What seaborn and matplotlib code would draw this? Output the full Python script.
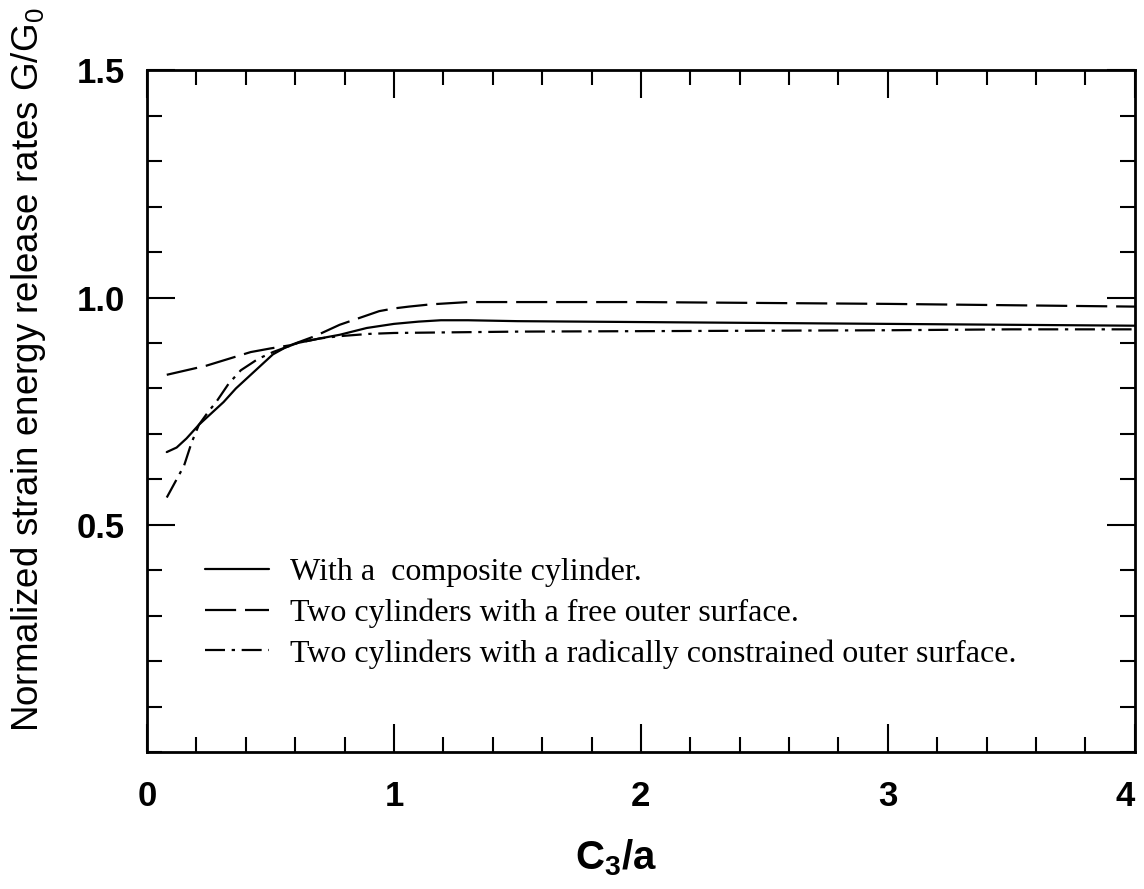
import numpy as np
import pandas as pd
import matplotlib
matplotlib.use("Agg")
import matplotlib.pyplot as plt
import seaborn as sns
from matplotlib.lines import Line2D
from matplotlib.ticker import MultipleLocator

# ---- data ----
x_solid = [0.08, 0.12, 0.16, 0.21, 0.26, 0.31, 0.36, 0.42, 0.47, 0.51, 0.56, 0.61, 0.70,
           0.78, 0.89, 1.0, 1.1, 1.19, 1.3, 1.5, 2.0, 2.5, 3.0, 3.5, 4.0]
y_solid = [0.66, 0.67, 0.69, 0.72, 0.745, 0.77, 0.80, 0.83, 0.855, 0.875, 0.89, 0.90, 0.91,
           0.918, 0.933, 0.942, 0.947, 0.95, 0.95, 0.948, 0.946, 0.944, 0.942, 0.94, 0.938]

x_dash = [0.08, 0.16, 0.24, 0.33, 0.42, 0.50, 0.58, 0.68, 0.78, 0.86, 0.94, 1.0, 1.06,
          1.15, 1.3, 1.5, 2.0, 2.5, 3.0, 3.5, 4.0]
y_dash = [0.83, 0.84, 0.85, 0.865, 0.88, 0.888, 0.895, 0.915, 0.94, 0.955, 0.97, 0.976, 0.98,
          0.985, 0.99, 0.99, 0.99, 0.988, 0.986, 0.983, 0.98]

x_dd = [0.08, 0.12, 0.15, 0.18, 0.21, 0.25, 0.28, 0.33, 0.38, 0.45, 0.51, 0.56, 0.61,
        0.70, 0.78, 0.9, 1.0, 1.5, 2.0, 2.5, 3.0, 3.5, 4.0]
y_dd = [0.56, 0.60, 0.63, 0.68, 0.72, 0.75, 0.77, 0.81, 0.84, 0.865, 0.88, 0.89, 0.90,
        0.91, 0.915, 0.92, 0.922, 0.925, 0.926, 0.927, 0.928, 0.93, 0.93]

labels = ["With a  composite cylinder.",
          "Two cylinders with a free outer surface.",
          "Two cylinders with a radically constrained outer surface."]

x_ticks = [0, 1, 2, 3, 4]
y_ticks = [0.5, 1.0, 1.5]

sns.set_theme(style="ticks")
plt.rcParams['font.family'] = ['Liberation Sans', 'DejaVu Sans']
plt.rcParams['text.color'] = 'black'
plt.rcParams['axes.labelcolor'] = 'black'
plt.rcParams['xtick.color'] = 'black'
plt.rcParams['ytick.color'] = 'black'

fig = plt.figure(figsize=(11.44, 8.89), dpi=100)
ax = fig.add_axes([0.1285, 0.154, 0.8635, 0.767])

lw = 1.6
styles = [None, (14, 4), (9, 3, 1.5, 3)]
series = [(x_solid, y_solid), (x_dash, y_dash), (x_dd, y_dd)]
handles = []
for (xs, ys), dash, lab in zip(series, styles, labels):
    df = pd.DataFrame({"x": xs, "y": ys})
    sns.lineplot(data=df, x="x", y="y", ax=ax, color="black", linewidth=lw,
                 estimator=None, sort=True)
    line = ax.lines[-1]
    if dash is not None:
        line.set_dashes(dash)
    h = Line2D([0], [0], color="black", linewidth=lw)
    if dash is not None:
        h.set_dashes(dash)
    handles.append(h)

ax.set_xlim(0, 4)
ax.set_ylim(0, 1.5)
ax.xaxis.set_minor_locator(MultipleLocator(0.2))
ax.yaxis.set_minor_locator(MultipleLocator(0.1))
ax.set_yticks(y_ticks)
ax.set_yticklabels(["0.5", "1.0", "1.5"])
ax.set_xticks(x_ticks)
ax.set_xticklabels([str(v) for v in x_ticks])

for sp in ax.spines.values():
    sp.set_visible(True)
    sp.set_linewidth(2.0)
    sp.set_color("black")

ax.tick_params(which="both", direction="in", top=True, right=True,
               color="black", width=1.5)
ax.tick_params(which="major", length=20)
ax.tick_params(axis="y", which="major", labelsize=25, pad=16)
ax.tick_params(axis="x", which="major", labelsize=25, pad=20)
ax.tick_params(which="minor", length=11)
for t in ax.get_xticklabels() + ax.get_yticklabels():
    t.set_fontweight("bold")
ax.get_xticklabels()[-1].set_horizontalalignment("right")

ax.set_xlabel(r"C$_\mathregular{3}$/a", fontsize=29, fontweight="bold")
ax.xaxis.set_label_coords(0.475, -0.125)
ax.set_ylabel(r"Normalized strain energy release rates G/G$_\mathregular{0}$",
              fontsize=26.5)
ax.yaxis.set_label_coords(-0.10, 0.56)

leg = ax.legend(handles, labels, loc="upper left", bbox_to_anchor=(0.059, 0.285),
                frameon=False, borderaxespad=0, borderpad=0,
                handlelength=2.0, handletextpad=0.65, labelspacing=0.35,
                prop={"family": "Liberation Serif", "size": 23})

fig.savefig("out.png", dpi=100, facecolor="white")
